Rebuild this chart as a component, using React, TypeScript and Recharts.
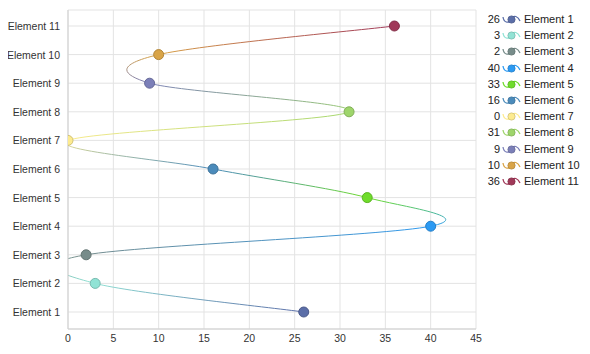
import React from "react";
import { LineChart, Line, XAxis, YAxis, CartesianGrid } from "recharts";

const categories = [
  "Element 1",
  "Element 2",
  "Element 3",
  "Element 4",
  "Element 5",
  "Element 6",
  "Element 7",
  "Element 8",
  "Element 9",
  "Element 10",
  "Element 11",
];
const values = [26, 3, 2, 40, 33, 16, 0, 31, 9, 10, 36];
const colors = [
  "#5b6ea8",
  "#91e3d5",
  "#778c8a",
  "#2b9af3",
  "#6fdc2b",
  "#4b8bbb",
  "#fdeb8f",
  "#9ed56b",
  "#7b7fb8",
  "#d9a447",
  "#a03858",
];
const xTicks = [0, 5, 10, 15, 20, 25, 30, 35, 40, 45];

const data = categories.map((name, i) => ({ name, value: values[i] }));

const font = "'Liberation Sans', Arial, sans-serif";

const darken = (hex: string, f = 0.82) => {
  const n = parseInt(hex.slice(1), 16);
  const r = Math.round(((n >> 16) & 255) * f);
  const g = Math.round(((n >> 8) & 255) * f);
  const b = Math.round((n & 255) * f);
  return `rgb(${r},${g},${b})`;
};

// uniform catmull-rom spline, passed to recharts as a d3 curve factory
const catmullRom = (context: any) => {
  let pts: number[][] = [];
  return {
    areaStart() {},
    areaEnd() {},
    lineStart() {
      pts = [];
    },
    lineEnd() {
      const n = pts.length;
      if (!n) return;
      context.moveTo(pts[0][0], pts[0][1]);
      for (let i = 0; i < n - 1; i++) {
        const p0 = pts[Math.max(i - 1, 0)];
        const p1 = pts[i];
        const p2 = pts[i + 1];
        const p3 = pts[Math.min(i + 2, n - 1)];
        context.bezierCurveTo(
          p1[0] + (p2[0] - p0[0]) / 6,
          p1[1] + (p2[1] - p0[1]) / 6,
          p2[0] - (p3[0] - p1[0]) / 6,
          p2[1] - (p3[1] - p1[1]) / 6,
          p2[0],
          p2[1]
        );
      }
    },
    point(x: number, y: number) {
      pts.push([+x, +y]);
    },
  };
};

const Dot = (props: any) => {
  const { cx, cy, index } = props;
  if (cx == null || cy == null) return <g key={`d${index}`} />;
  const c = colors[index];
  return (
    <circle
      key={`d${index}`}
      cx={cx}
      cy={cy}
      r={5}
      fill={c}
      stroke={darken(c)}
      strokeWidth={1}
    />
  );
};

const YTick = (props: any) => {
  const { x, y, payload } = props;
  return (
    <text
      x={x - 2}
      y={y}
      dy={4}
      textAnchor="end"
      fontSize={10.5}
      fill="#333"
      fontFamily={font}
    >
      {payload.value}
    </text>
  );
};

const LegendIcon = ({ color }: { color: string }) => (
  <svg width={19} height={12} style={{ display: "block" }}>
    <path
      d="M1,4 C2,10 6,10 9,8 M9,5 C12,2 16,3 18,8"
      fill="none"
      stroke={color}
      strokeWidth={1.3}
    />
    <circle cx={9.5} cy={6.5} r={3.6} fill={color} stroke={darken(color)} strokeWidth={0.8} />
  </svg>
);

const App = () => {
  return (
    <div style={{ position: "relative", width: 574, height: 338 }}>
      <LineChart
        width={482}
        height={338}
        data={data}
        layout="vertical"
        margin={{ top: 2, right: 14, bottom: 0, left: 0 }}
      >
        <defs>
          <linearGradient id="lineGrad" x1="0" y1="0" x2="0" y2="1">
            {colors
              .map((c, i) => ({ c, off: (categories.length - 1 - i) / (categories.length - 1) }))
              .reverse()
              .map((s, i) => (
                <stop key={i} offset={s.off} stopColor={s.c} />
              ))}
          </linearGradient>
        </defs>
        <CartesianGrid stroke="#e3e3e3" />
        <XAxis
          type="number"
          domain={[0, 45]}
          ticks={xTicks}
          allowDataOverflow
          height={17}
          tickLine={false}
          tickSize={0}
          tickMargin={6}
          axisLine={{ stroke: "#cfcfcf" }}
          tick={{ fontSize: 10.5, fill: "#333", fontFamily: font }}
          interval={0}
        />
        <XAxis
          xAxisId="top"
          orientation="top"
          type="number"
          domain={[0, 45]}
          height={0}
          tick={false}
          tickLine={false}
          axisLine={{ stroke: "#e3e3e3" }}
        />
        <YAxis
          type="category"
          dataKey="name"
          reversed
          width={60}
          padding={{ top: 16, bottom: 17 }}
          tickLine={false}
          tickSize={0}
          tickMargin={6}
          axisLine={{ stroke: "#cfcfcf" }}
          tick={<YTick />}
          interval={0}
        />
        <Line
          dataKey="value"
          type={catmullRom as any}
          stroke="url(#lineGrad)"
          strokeWidth={1}
          dot={Dot}
          activeDot={false}
          isAnimationActive={false}
        />
      </LineChart>
      {categories.map((name, i) => (
        <div
          key={name}
          style={{
            position: "absolute",
            left: 470,
            top: 4 + i * 16.2,
            height: 14,
            display: "flex",
            alignItems: "center",
            fontFamily: font,
            fontSize: 11,
            color: "#222",
            whiteSpace: "nowrap",
          }}
        >
          <span style={{ width: 22, textAlign: "right", marginRight: 2 }}>{values[i]}</span>
          <LegendIcon color={colors[i]} />
          <span style={{ marginLeft: 3 }}>{name}</span>
        </div>
      ))}
    </div>
  );
};

export default App;
